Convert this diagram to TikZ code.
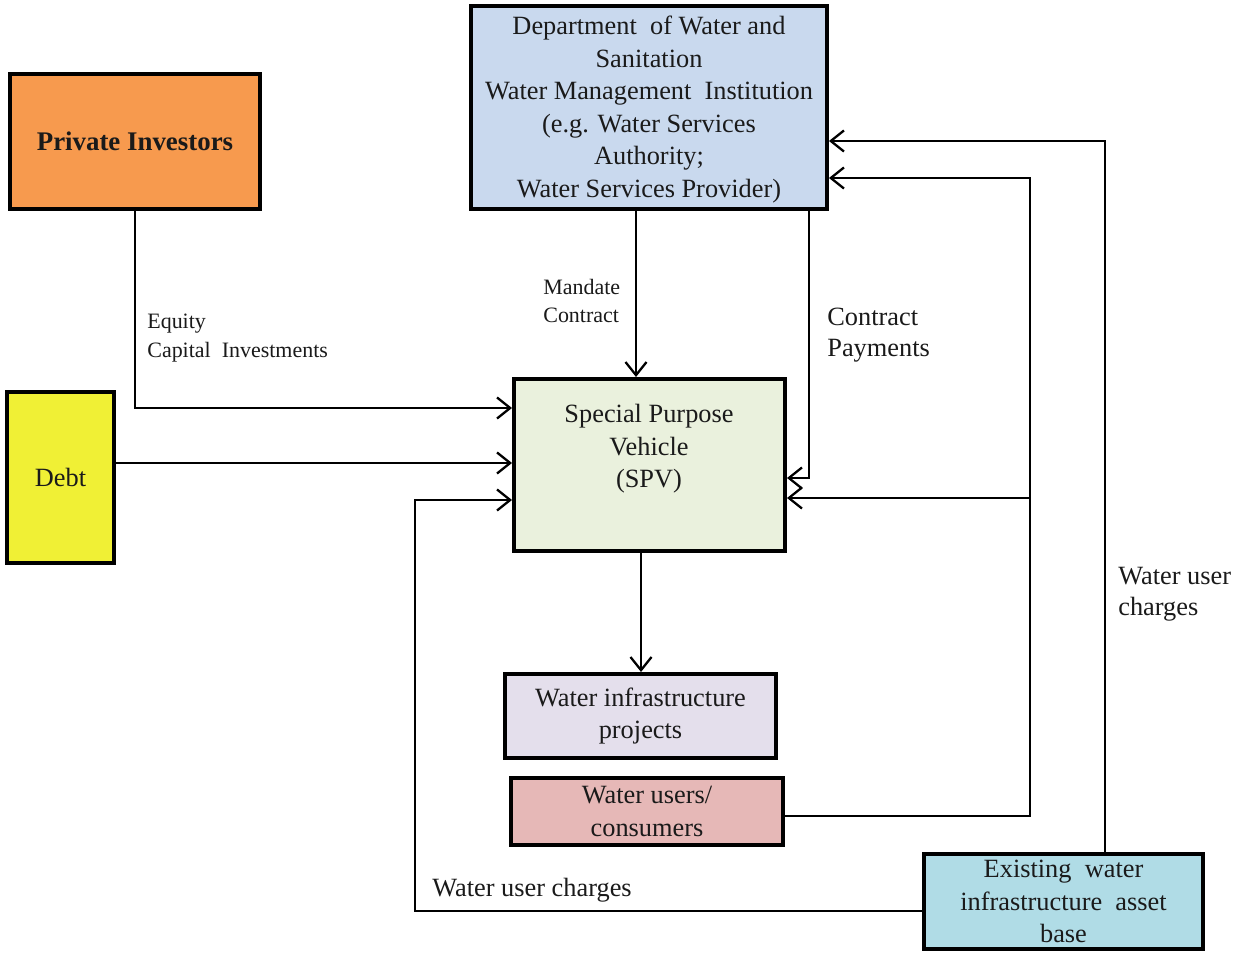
\documentclass[tikz,border=0pt]{standalone}
\usepackage{fontspec}
\setmainfont{Liberation Serif}
\usetikzlibrary{arrows.meta}
\definecolor{cPI}{HTML}{F79A4E}
\definecolor{cDebt}{HTML}{F0F035}
\definecolor{cDept}{HTML}{C9D9EE}
\definecolor{cSPV}{HTML}{EAF1DD}
\definecolor{cWIP}{HTML}{E4DFEC}
\definecolor{cWU}{HTML}{E6B8B7}
\definecolor{cEX}{HTML}{B0DCE6}
\definecolor{txt}{HTML}{1A1A1A}
\tikzset{
  box/.style={draw=black, line width=2.3pt, inner sep=0pt, align=center, text=txt,
    font=\fontsize{15}{18.5}\selectfont},
  conn/.style={draw=black, line width=1.4pt},
  arr/.style={conn, -{Straight Barb[length=7.5pt, width=12pt, line width=1.3pt]}},
  lblS/.style={align=left, text=txt, inner sep=0pt, font=\fontsize{12.5}{16.4}\selectfont},
  lblL/.style={align=left, text=txt, inner sep=0pt, font=\fontsize{15}{17.6}\selectfont}
}
\begin{document}
\begin{tikzpicture}[x=0.02cm, y=-0.02cm]
\useasboundingbox (0,0) rectangle (1237,956);
\fill[white] (0,0) rectangle (1237,956);

\node[box, fill=cPI, minimum width=5cm, minimum height=2.7cm, font=\fontsize{15.3}{18.5}\selectfont\bfseries] (pi) at (135,141.5) {Private Investors};
\node[box, fill=cDebt, minimum width=2.14cm, minimum height=3.42cm] (debt) at (60.5,477.5) {Debt};
\node[box, fill=cDept, minimum width=7.12cm, minimum height=4.06cm] (dept) at (649,107.5) {};
\node[align=center, text=txt, inner sep=0pt, font=\fontsize{15}{18.5}\selectfont] (deptt) at (649,109.5)
  {Department~ of Water and\\Sanitation\\Water Management~ Institution\\(e.g. Water Services\\Authority;\\Water Services Provider)};
\node[box, fill=cSPV, minimum width=5.42cm, minimum height=3.44cm] (spv) at (649.5,465) {};
\node[align=center, text=txt, inner sep=0pt, font=\fontsize{15}{18.5}\selectfont] (spvt) at (649,449)
  {Special Purpose\\Vehicle\\(SPV)};
\node[box, fill=cWIP, minimum width=5.42cm, minimum height=1.68cm] (wip) at (640.5,716)
  {Water infrastructure\\projects};
\node[box, fill=cWU, minimum width=5.44cm, minimum height=1.34cm] (wu) at (647,811.5)
  {Water users/\\consumers};
\node[box, fill=cEX, minimum width=5.58cm, minimum height=1.9cm] (ex) at (1063.5,901.5)
  {Existing~ water\\infrastructure~ asset\\base};

% connectors
\draw[arr] (pi.south) |- (spv.west |- 0,408);
\draw[arr] (debt.east |- 0,463) -- (spv.west |- 0,463);
\coordinate (bl) at (415,911);
\draw[arr] (ex.west |- 0,911) -- (bl) |- (spv.west |- 0,500);
\draw[arr] (dept.south -| 636,0) -- (spv.north -| 636,0);
\draw[arr] (dept.south -| 809,0) |- (spv.east |- 0,478);
\coordinate (jr) at (1030,816);
\coordinate (jm) at (1030,498);
\draw[arr] (wu.east |- 0,816) -- (jr) |- (dept.east |- 0,178);
\draw[arr] (jm) -- (spv.east |- 0,498);
\draw[arr] (ex.north -| 1105,0) |- (dept.east |- 0,141);
\draw[arr] (spv.south -| 641,0) -- (wip.north -| 641,0);

% labels
\node[lblS, anchor=west] (l1) at (147,338) {Equity\\Capital~ Investments};
\node[lblS, anchor=west] (l2) at (543,301) {Mandate\\Contract};
\node[lblL, anchor=west] (l3) at (827,335) {Contract\\Payments};
\node[lblL, anchor=west] (l4) at (1118,594) {Water user\\charges};
\node[lblL, anchor=west] (l5) at (432,890) {Water user charges};
\end{tikzpicture}
\end{document}
